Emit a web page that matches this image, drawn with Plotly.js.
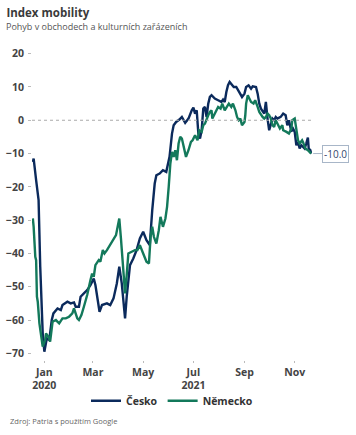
<!DOCTYPE html>
<html>
<head>
<meta charset="utf-8">
<script src="https://cdn.plot.ly/plotly-3.0.1.min.js"></script>
<style>html,body{margin:0;padding:0;background:#fff;}#chart{width:356px;height:435px;}</style>
</head>
<body>
<div id="chart"></div>
<script>
const czDates = ["2020-12-18","2020-12-19","2020-12-22","2020-12-25","2020-12-27","2020-12-30","2021-01-01","2021-01-04","2021-01-07","2021-01-10","2021-01-12","2021-01-17","2021-01-21","2021-01-23","2021-01-29","2021-02-02","2021-02-06","2021-02-08","2021-02-12","2021-02-14","2021-02-18","2021-02-22","2021-02-26","2021-03-02","2021-03-04","2021-03-09","2021-03-12","2021-03-18","2021-03-22","2021-03-26","2021-03-30","2021-04-02","2021-04-05","2021-04-09","2021-04-11","2021-04-15","2021-04-19","2021-04-23","2021-04-27","2021-05-01","2021-05-05","2021-05-09","2021-05-12","2021-05-15","2021-05-17","2021-05-21","2021-05-25","2021-05-29","2021-06-02","2021-06-05","2021-06-07","2021-06-10","2021-06-14","2021-06-17","2021-06-21","2021-06-25","2021-06-29","2021-07-01","2021-07-03","2021-07-05","2021-07-07","2021-07-09","2021-07-11","2021-07-13","2021-07-15","2021-07-17","2021-07-19","2021-07-21","2021-07-23","2021-07-27","2021-07-31","2021-08-04","2021-08-06","2021-08-08","2021-08-10","2021-08-12","2021-08-14","2021-08-16","2021-08-19","2021-08-22","2021-08-26","2021-08-29","2021-09-01","2021-09-03","2021-09-06","2021-09-09","2021-09-11","2021-09-15","2021-09-17","2021-09-19","2021-09-21","2021-09-23","2021-09-25","2021-09-27","2021-09-28","2021-09-29","2021-10-01","2021-10-03","2021-10-05","2021-10-07","2021-10-09","2021-10-11","2021-10-15","2021-10-18","2021-10-21","2021-10-23","2021-10-25","2021-10-28","2021-10-29","2021-11-01","2021-11-03","2021-11-05","2021-11-07","2021-11-09","2021-11-11","2021-11-13","2021-11-15","2021-11-17","2021-11-18","2021-11-20","2021-11-21"];
const czValues = [-12.5,-11.5,-18,-24,-44,-64,-69.5,-65.5,-66,-60,-58,-56.5,-57,-55.5,-54.5,-55,-54.7,-56,-56,-53,-52,-51,-49.5,-47.5,-49.5,-57.5,-55.5,-55,-55.5,-53.5,-49,-44,-49,-59.5,-53,-43.5,-41.5,-39,-35.5,-33.5,-36,-37.5,-27,-19,-16.5,-16,-15,-15.5,-11,-4,-1.5,-0.5,0.2,1,-0.8,0.5,3,3.8,2,3,-4,-5.5,-3,3.5,4,1,5,7,7.5,6.5,6,5.5,6.2,5.5,8.5,10.5,11.5,11,10,10,8,7,8,10,10.5,9.5,10.2,10,8,5,3.5,2.5,2,5.5,2,0.5,-3,-1,0.5,0,1,0.5,1,2,1.5,-1.5,0,-3.5,-2,-3.5,-7.5,-6.5,-8.5,-7.5,-8,-8.5,-7,-5.2,-8.5,-9,-10];

const deDates = ["2020-12-18","2020-12-19","2020-12-21","2020-12-22","2020-12-23","2020-12-24","2020-12-26","2020-12-29","2020-12-30","2021-01-02","2021-01-03","2021-01-06","2021-01-08","2021-01-10","2021-01-11","2021-01-15","2021-01-19","2021-01-23","2021-01-27","2021-01-31","2021-02-04","2021-02-06","2021-02-08","2021-02-10","2021-02-12","2021-02-15","2021-02-18","2021-02-22","2021-02-26","2021-02-28","2021-03-02","2021-03-04","2021-03-08","2021-03-10","2021-03-13","2021-03-15","2021-03-18","2021-03-22","2021-03-26","2021-03-29","2021-03-31","2021-04-02","2021-04-04","2021-04-07","2021-04-09","2021-04-11","2021-04-13","2021-04-17","2021-04-21","2021-04-24","2021-04-27","2021-05-01","2021-05-05","2021-05-08","2021-05-10","2021-05-12","2021-05-14","2021-05-17","2021-05-20","2021-05-22","2021-05-25","2021-05-28","2021-05-30","2021-06-01","2021-06-03","2021-06-05","2021-06-07","2021-06-09","2021-06-11","2021-06-13","2021-06-15","2021-06-17","2021-06-20","2021-06-22","2021-06-25","2021-06-28","2021-06-30","2021-07-03","2021-07-06","2021-07-08","2021-07-11","2021-07-13","2021-07-15","2021-07-17","2021-07-19","2021-07-21","2021-07-23","2021-07-24","2021-07-26","2021-07-28","2021-07-31","2021-08-03","2021-08-05","2021-08-08","2021-08-10","2021-08-13","2021-08-16","2021-08-18","2021-08-21","2021-08-23","2021-08-25","2021-08-27","2021-08-29","2021-09-01","2021-09-02","2021-09-03","2021-09-05","2021-09-07","2021-09-09","2021-09-12","2021-09-14","2021-09-17","2021-09-19","2021-09-23","2021-09-25","2021-09-27","2021-09-29","2021-10-01","2021-10-03","2021-10-05","2021-10-07","2021-10-09","2021-10-11","2021-10-14","2021-10-17","2021-10-18","2021-10-22","2021-10-25","2021-10-28","2021-10-29","2021-11-01","2021-11-03","2021-11-05","2021-11-07","2021-11-10","2021-11-11","2021-11-14","2021-11-17","2021-11-20","2021-11-21"];
const deValues = [-29.5,-32,-41,-42,-53,-54.5,-61,-65.5,-68,-66,-64,-65,-66.5,-62.5,-60.5,-60,-61,-59.5,-59.5,-59,-58,-56.5,-58,-59.5,-60,-58.5,-56,-52.5,-48,-46,-47,-43.5,-42,-42.5,-39,-40,-39,-37.5,-36,-34.5,-32,-29.5,-35.5,-47,-52,-46.5,-40,-39.5,-39,-39,-37.5,-40,-42.5,-43,-35,-32,-35,-37,-33,-29,-32,-29.5,-26,-20,-13,-9.5,-11,-9,-12,-7,-5,-5.5,-8.5,-11,-9,-6.5,-6,-4.5,-6,-3,-3.5,-1.5,-1,0,1.5,2.5,3,0.5,1.5,3,4,3.5,5,3,4,5,4,5,3,1,0,0.5,-1.5,-0.5,1.5,5,7.5,6.5,5.5,5,6,4,2.5,1,0.5,1,2,1.5,0.5,-1.5,-2,0,-1,-2.5,-1.5,-3,-3.5,-4,-2.5,0,0.5,-3,-6,-7,-6,-6.5,-8.5,-9,-10,-10];

const seriesNames = ["Česko", "Německo"];
const tickDates = ["2021-01-01","2021-03-01","2021-05-01","2021-07-01","2021-09-01","2021-11-01"];
const tickLabels = ["Jan<br>2020","Mar","May","Jul<br>2021","Sep","Nov"];
const yTicks = [20,10,0,-10,-20,-30,-40,-50,-60,-70];

const navy = "#0b2a5c";
const green = "#13795b";
const font = "Open Sans, Noto Sans, sans-serif";

const lastDate = czDates[czDates.length-1];
const lastVal = czValues[czValues.length-1];

const traces = [
  {x: czDates, y: czValues, name: seriesNames[0], type: "scatter", mode: "lines",
   line: {color: navy, width: 2.4}},
  {x: deDates, y: deValues, name: seriesNames[1], type: "scatter", mode: "lines",
   line: {color: green, width: 2.4}}
];

const layout = {
  width: 356, height: 435,
  margin: {l: 32, r: 44, t: 47, b: 75},
  paper_bgcolor: "#fff", plot_bgcolor: "#fff",
  font: {family: font, color: "#444"},
  title: {
    text: "<b>Index mobility</b>",
    font: {size: 11.5, color: "#3a3a3a", family: font},
    xref: "container", yref: "container", x: 0.018, xanchor: "left", y: 0.97, yanchor: "middle"
  },
  showlegend: true,
  legend: {orientation: "h", x: 0.5, xanchor: "center", y: -0.13, yanchor: "middle",
    bgcolor: "rgba(0,0,0,0)",
    font: {size: 10.5, color: "#333", family: font, weight: "bold"}, itemwidth: 30, tracegroupgap: 0},
  xaxis: {
    type: "date", range: ["2020-12-17", "2021-11-22"],
    tickmode: "array", tickvals: tickDates, ticktext: tickLabels,
    ticks: "outside", ticklen: 2, tickcolor: "#bbb",
    tickfont: {size: 10.5, color: "#444", family: font, weight: "bold"},
    showgrid: false, zeroline: false, showline: false
  },
  yaxis: {
    range: [-72, 22], tickmode: "array", tickvals: yTicks,
    ticks: "outside", ticklen: 3, tickcolor: "#bbb", ticklabelstandoff: 2,
    tickfont: {size: 10.5, color: "#444", family: font, weight: "bold"},
    showgrid: false, zeroline: false, showline: false
  },
  shapes: [
    {type: "line", xref: "paper", x0: 0, x1: 1, yref: "y", y0: 0, y1: 0,
     line: {color: "#aaa", width: 1, dash: "3px,3px"}}
  ],
  annotations: [
    {xref: "paper", yref: "paper", x: -0.1, y: 1.067, xanchor: "left", yanchor: "middle",
     text: "Pohyb v obchodech a kulturních zařázeních", showarrow: false,
     font: {size: 9, color: "#555", family: font}},
    {x: lastDate, y: lastVal, xref: "x", yref: "y", text: lastVal.toFixed(1), showarrow: true,
     arrowhead: 0, arrowwidth: 1, arrowcolor: "#a8b6c8", ax: 24, ay: 0, standoff: 2,
     bordercolor: "#a8b6c8", borderwidth: 1, borderpad: 1, bgcolor: "#fff",
     font: {size: 10, color: "#34466b", family: font}},
    {xref: "paper", yref: "paper", x: -0.085, y: -0.195, xanchor: "left", yanchor: "middle",
     text: "Zdroj: Patria s použitím Google", showarrow: false,
     font: {size: 7.5, color: "#666", family: font}}
  ],
  hovermode: false
};

Plotly.newPlot("chart", traces, layout, {displayModeBar: false, staticPlot: true});
</script>
</body>
</html>
